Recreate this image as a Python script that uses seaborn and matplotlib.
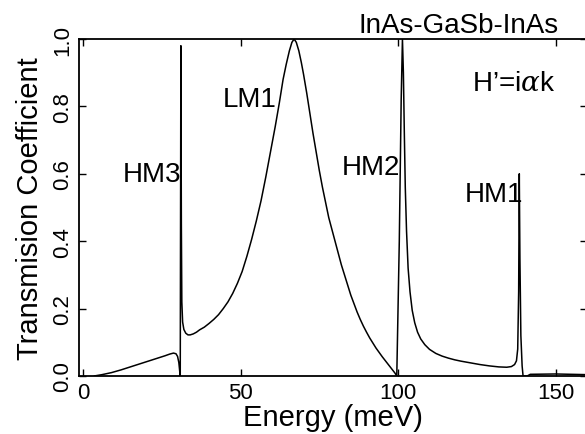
import matplotlib
matplotlib.use("Agg")
import matplotlib.pyplot as plt
from matplotlib import font_manager
import seaborn as sns
import pandas as pd

energy = [3.5, 6, 9, 12, 15, 18, 21, 24, 26, 27.5, 28.7, 29.5, 30.0, 30.4, 30.7, 30.85,
          31.05, 31.2, 31.35, 31.6, 32.0, 32.6, 33.3,
          34, 35, 36, 37, 38.5, 40, 41.5, 43, 44.5, 46, 47.5, 49, 50.5, 52, 53.5, 55,
          56.5, 58, 59.5, 61, 62.3, 63.5, 64.5, 65.5, 66.3, 67, 67.7, 68.5, 69.3,
          70, 71, 72, 73, 74, 75, 76, 77, 78, 79, 80, 81, 82, 83, 84, 85, 86, 87,
          88, 89, 90, 91, 92, 93, 94, 95, 96, 97, 98, 99, 99.6,
          100.4, 101.0, 101.4, 101.7, 102.0, 102.3, 102.7, 103.2, 103.8, 104.5,
          105.3, 106.2, 107.2, 108.5, 110, 112, 114, 116, 118, 120, 123, 126, 129,
          132, 134.5, 136, 137, 137.6, 138.0, 138.3, 138.5, 138.7, 139.0, 139.4,
          139.7, 141, 142, 150, 160]
transmission = [0.0, 0.004, 0.01, 0.018, 0.027, 0.036, 0.045, 0.054, 0.06, 0.065, 0.068, 0.066, 0.058, 0.04, 0.012, 0.0,
                0.98, 0.45, 0.22, 0.16, 0.138, 0.127, 0.122,
                0.122, 0.125, 0.13, 0.137, 0.145, 0.156, 0.168, 0.182, 0.2, 0.22, 0.245, 0.275, 0.31, 0.355, 0.405, 0.46,
                0.52, 0.59, 0.665, 0.74, 0.81, 0.88, 0.925, 0.965, 0.99, 1.0, 0.99, 0.965, 0.93,
                0.895, 0.84, 0.78, 0.72, 0.665, 0.61, 0.56, 0.515, 0.47, 0.435, 0.40, 0.365, 0.33, 0.30, 0.27, 0.24, 0.215, 0.19,
                0.168, 0.148, 0.13, 0.113, 0.098, 0.083, 0.07, 0.057, 0.045, 0.033, 0.021, 0.009, 0.0,
                0.4, 0.82, 1.0, 0.9, 0.72, 0.56, 0.43, 0.32, 0.25, 0.195,
                0.158, 0.13, 0.11, 0.093, 0.079, 0.067, 0.059, 0.053, 0.048, 0.044, 0.039, 0.034, 0.030,
                0.027, 0.026, 0.028, 0.034, 0.045, 0.08, 0.25, 0.60, 0.35, 0.12, 0.03,
                0.0, 0.0, 0.005, 0.006, 0.004]

xticks = [0, 50, 100, 150]
yticks = [0.0, 0.2, 0.4, 0.6, 0.8, 1.0]
ytick_labels = ["0.0", "0.2", "0.4", "0.6", "0.8", "1.0"]

sns.set_theme(style="ticks")
names = {f.name for f in font_manager.fontManager.ttflist}
fam = "Liberation Sans Narrow" if "Liberation Sans Narrow" in names else "Liberation Sans"
plt.rcParams['font.family'] = [fam, 'DejaVu Sans']
plt.rcParams['mathtext.fontset'] = 'custom'
plt.rcParams['mathtext.it'] = 'DejaVu Serif:italic'

fig = plt.figure(figsize=(5.85, 4.35), dpi=100)
ax = fig.add_axes([79/585, 1-377/435, (587-79)/585, (377-40)/435])

df = pd.DataFrame({"Energy": energy, "T": transmission})
sns.lineplot(data=df, x="Energy", y="T", sort=False, color="black", lw=1.1, ax=ax)

ax.set_xlim(-1.3, 160)
ax.set_ylim(0, 1.0)
ax.set_xticks(xticks)
ax.set_yticks(yticks)
ax.set_yticklabels(ytick_labels, rotation=90, va="center")
ax.tick_params(direction="in", length=5, width=1, top=True, right=True,
               labelsize=16, color="black", labelcolor="black")
ax.tick_params(axis="x", pad=4)
ax.tick_params(axis="y", pad=4)
for s in ax.spines.values():
    s.set_linewidth(1.3)
    s.set_color("black")

ax.set_xlabel("Energy (meV)", fontsize=21, color="black", labelpad=0)
ax.set_ylabel("Transmision Coefficient", fontsize=21, color="black", labelpad=6)

ax.text(0.945, 1.021, "InAs-GaSb-InAs", transform=ax.transAxes, ha="right",
        va="baseline", fontsize=20, color="black")
ax.text(0.937, 0.849, "H\u2019=i$\\alpha$k", transform=ax.transAxes, ha="right",
        va="baseline", fontsize=20, color="black")
ax.text(44.4, 0.80, "LM1", ha="left", va="baseline", fontsize=20, color="black")
ax.text(12.7, 0.579, "HM3", ha="left", va="baseline", fontsize=20, color="black")
ax.text(82.2, 0.60, "HM2", ha="left", va="baseline", fontsize=20, color="black")
ax.text(121.3, 0.519, "HM1", ha="left", va="baseline", fontsize=20, color="black")

fig.savefig("out.png", dpi=100, facecolor="white")
